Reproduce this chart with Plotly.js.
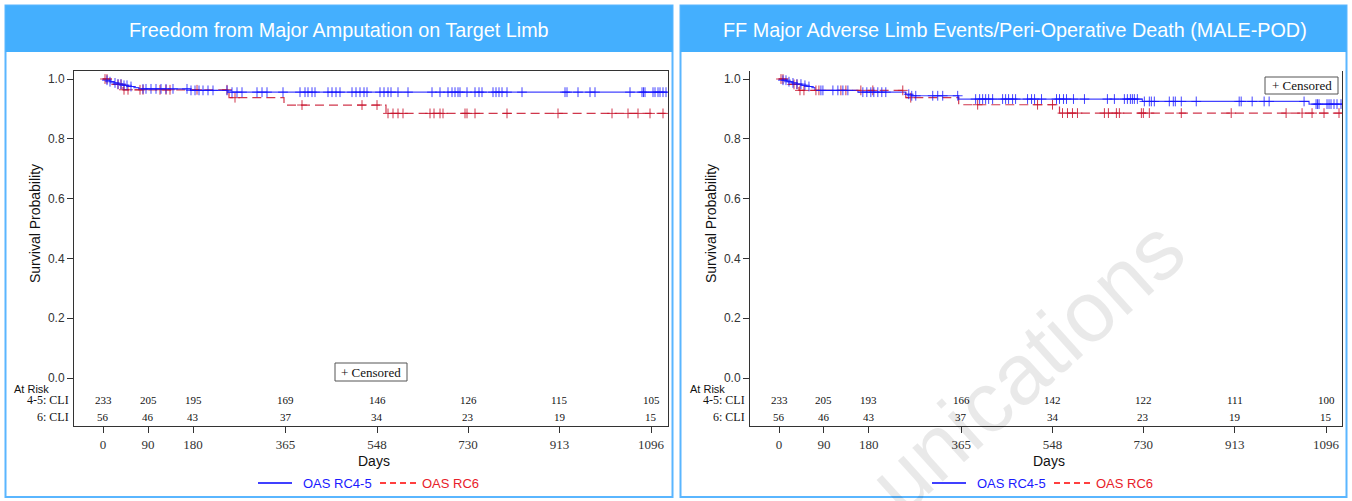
<!DOCTYPE html>
<html>
<head>
<meta charset="utf-8">
<script src="https://cdn.plot.ly/plotly-3.0.1.min.js"></script>
<style>html,body{margin:0;padding:0;background:#fff;}#chart{width:1352px;height:501px;}</style>
</head>
<body>
<div id="chart"></div>
<script>
// ---------- DATA ----------
const panelTitles = ["Freedom from Major Amputation on Target Limb",
                     "FF Major Adverse Limb Events/Peri-Operative Death (MALE-POD)"];
const seriesNames = ["OAS RC4-5", "OAS RC6"];
const dayTicks = [0, 90, 180, 365, 548, 730, 913, 1096];
const survTicks = [0, 0.2, 0.4, 0.6, 0.8, 1.0];
const survTickLabels = ["0.0", "0.2", "0.4", "0.6", "0.8", "1.0"];
const riskRowLabels = ["4-5: CLI", "6: CLI"];

// Panel 1: Freedom from Major Amputation
const p1_rc45_time = [0, 6, 14, 22, 30, 40, 50, 62, 72, 175, 250, 1128];
const p1_rc45_surv = [1.0, 0.996, 0.991, 0.987, 0.983, 0.979, 0.975, 0.971, 0.967, 0.962, 0.956, 0.956];
const p1_rc6_time = [0, 18, 40, 252, 362, 566, 1128];
const p1_rc6_surv = [1.0, 0.982, 0.964, 0.9375, 0.913, 0.885, 0.885];
const p1_rc45_cens = [8, 14, 24, 30, 36, 42, 48, 56, 80, 86, 96, 106, 116, 126, 140, 168, 176, 184, 192, 200, 210, 220,
  248, 258, 268, 278, 308, 318, 328, 360, 394, 404, 410, 418, 424, 450, 458, 466, 474,
  498, 506, 514, 522, 528, 554, 562, 570, 576, 590, 610, 658, 674, 690, 698, 704, 710, 714,
  728, 744, 752, 758, 780, 786, 792, 798, 808, 838, 924, 928, 950, 974, 984, 1054,
  1078, 1081, 1084, 1100, 1104, 1110, 1114, 1120, 1126];
const p1_rc6_cens = [4, 8, 30, 36, 42, 50, 74, 80, 114, 126, 134, 188, 248, 264, 398, 518, 548,
  570, 580, 590, 600, 654, 662, 674, 680, 724, 728, 744, 808, 910, 1018, 1050, 1070, 1094, 1120];
const p1_risk_rc45 = [233, 205, 195, 169, 146, 126, 115, 105];
const p1_risk_rc6 = [56, 46, 43, 37, 34, 23, 19, 15];

// Panel 2: MALE-POD
const p2_rc45_time = [0, 8, 16, 26, 36, 46, 56, 66, 72, 158, 254, 266, 360, 728, 1062, 1128];
const p2_rc45_surv = [1.0, 0.996, 0.991, 0.987, 0.983, 0.979, 0.975, 0.971, 0.962, 0.956, 0.949, 0.944, 0.933, 0.925, 0.916, 0.916];
const p2_rc6_time = [0, 18, 40, 254, 360, 562, 1128];
const p2_rc6_surv = [1.0, 0.982, 0.962, 0.9375, 0.914, 0.886, 0.886];
const p2_rc45_cens = [8, 14, 20, 28, 36, 44, 52, 60, 84, 88, 108, 118, 128, 138, 168, 176, 184, 190, 198, 206, 214,
  260, 266, 274, 308, 318, 328, 358, 394, 402, 408, 414, 420, 428, 448, 454, 460, 468, 474,
  498, 506, 512, 526, 556, 562, 570, 576, 590, 612, 658, 672, 692, 698, 704, 708, 712, 718,
  732, 742, 746, 752, 782, 790, 794, 806, 836, 922, 926, 948, 972, 982, 1052, 1076, 1079, 1082,
  1098, 1102, 1106, 1112, 1118, 1126];
const p2_rc6_cens = [4, 8, 30, 36, 42, 50, 74, 80, 124, 134, 164, 188, 248, 264, 398, 518, 548,
  568, 578, 588, 598, 652, 660, 676, 682, 726, 730, 742, 806, 906, 1016, 1048, 1068, 1092, 1122];
const p2_risk_rc45 = [233, 205, 193, 166, 142, 122, 111, 100];
const p2_risk_rc6 = [56, 46, 43, 37, 34, 23, 19, 15];

// ---------- STYLE / LAYOUT ----------
const W = 1352, H = 501;
const px = x => x / W;
const py = y => 1 - y / H;
const BLUE = 'rgba(20,20,255,0.8)';
const RED = 'rgba(200,20,45,0.85)';
const SANS = 'Liberation Sans, Arial, sans-serif';
const SERIF = 'Liberation Serif, Times New Roman, serif';

function stepAt(times, surv, t) {
  let v = surv[0];
  for (let i = 0; i < times.length; i++) { if (times[i] <= t) v = surv[i]; }
  return v;
}

function curve(times, surv, color, dash, xa, ya) {
  return {x: times, y: surv, type: 'scatter', mode: 'lines', line: {shape: 'hv', color: color, width: 1.2, dash: dash},
          xaxis: xa, yaxis: ya, showlegend: false, hoverinfo: 'skip'};
}
function cens(days, times, surv, color, xa, ya) {
  return {x: days, y: days.map(d => stepAt(times, surv, d)), type: 'scatter', mode: 'markers',
          marker: {symbol: 'cross-thin', size: 7, line: {color: color, width: 1}, color: color},
          xaxis: xa, yaxis: ya, showlegend: false, hoverinfo: 'skip'};
}

const data = [
  curve(p1_rc6_time, p1_rc6_surv, RED, '9px,5px', 'x', 'y'),
  curve(p1_rc45_time, p1_rc45_surv, BLUE, 'solid', 'x', 'y'),
  cens(p1_rc6_cens, p1_rc6_time, p1_rc6_surv, RED, 'x', 'y'),
  cens(p1_rc45_cens, p1_rc45_time, p1_rc45_surv, BLUE, 'x', 'y'),
  curve(p2_rc6_time, p2_rc6_surv, RED, '9px,5px', 'x2', 'y2'),
  curve(p2_rc45_time, p2_rc45_surv, BLUE, 'solid', 'x2', 'y2'),
  cens(p2_rc6_cens, p2_rc6_time, p2_rc6_surv, RED, 'x2', 'y2'),
  cens(p2_rc45_cens, p2_rc45_time, p2_rc45_surv, BLUE, 'x2', 'y2')
];

const yDomain = [py(426), py(71)];
const yRange = [-0.1605, 1.0268];
function xAxis(dom, rng, mirror, anchor) {
  return {domain: dom, range: rng, anchor: anchor, tickmode: 'array', tickvals: dayTicks, ticktext: dayTicks.map(String),
    ticks: 'outside', ticklen: 6, tickcolor: '#333', showline: true, linecolor: '#333', linewidth: 1, mirror: mirror,
    showgrid: false, zeroline: false, tickfont: {family: SERIF, size: 13, color: '#333'}, fixedrange: true};
}
function yAxis(dom, anchor) {
  return {domain: dom, range: yRange, anchor: anchor, tickmode: 'array', tickvals: survTicks, ticktext: survTickLabels,
    ticks: 'outside', ticklen: 6, tickcolor: '#333', showline: true, linecolor: '#333', linewidth: 1, mirror: true,
    showgrid: false, zeroline: false, tickfont: {family: SANS, size: 12, color: '#333'}, fixedrange: true};
}

const panels = [
  {x0: 5.5, x1: 672.5, title: panelTitles[0], tcx: 339, axL: 74, xa: 'x', riskA: p1_risk_rc45, riskB: p1_risk_rc6,
   daysX: 374, legX: 258, box: [335, 363, 407, 381]},
  {x0: 680.5, x1: 1346.5, title: panelTitles[1], tcx: 1015, axL: 750, xa: 'x2', riskA: p2_risk_rc45, riskB: p2_risk_rc6,
   daysX: 1049, legX: 932, box: [1265, 77, 1338, 94]}
];

const shapes = [];
const annotations = [];
panels.forEach(p => {
  shapes.push({type: 'rect', xref: 'paper', yref: 'paper', x0: px(p.x0), x1: px(p.x1), y0: py(497), y1: py(5.5),
    line: {color: '#5ab6ff', width: 2}, fillcolor: 'rgba(0,0,0,0)', layer: 'below'});
  shapes.push({type: 'rect', xref: 'paper', yref: 'paper', x0: px(p.x0), x1: px(p.x1), y0: py(52), y1: py(5.5),
    line: {width: 0}, fillcolor: '#44affe', layer: 'below'});
  annotations.push({xref: 'paper', yref: 'paper', x: px(p.tcx), y: py(30), text: p.title, showarrow: false,
    font: {family: SANS, size: 19.8, color: '#ffffff'}, xanchor: 'center', yanchor: 'middle'});
  // y title
  annotations.push({xref: 'paper', yref: 'paper', x: px(p.axL - 39), y: py(224), text: 'Survival Probability', textangle: -90,
    showarrow: false, font: {family: SANS, size: 14, color: '#111'}, xanchor: 'center', yanchor: 'middle'});
  // At risk labels
  annotations.push({xref: 'paper', yref: 'paper', x: px(p.axL - 62), y: py(389), text: 'At Risk', showarrow: false,
    font: {family: SANS, size: 11, color: '#111'}, xanchor: 'left', yanchor: 'middle'});
  annotations.push({xref: 'paper', yref: 'paper', x: px(p.axL - 3), y: py(400), text: riskRowLabels[0], showarrow: false,
    font: {family: SERIF, size: 12, color: '#111'}, xanchor: 'right', yanchor: 'middle'});
  annotations.push({xref: 'paper', yref: 'paper', x: px(p.axL - 3), y: py(417), text: riskRowLabels[1], showarrow: false,
    font: {family: SERIF, size: 12, color: '#111'}, xanchor: 'right', yanchor: 'middle'});
  dayTicks.forEach((d, i) => {
    annotations.push({xref: p.xa, yref: 'paper', x: d, y: py(400), text: String(p.riskA[i]), showarrow: false,
      font: {family: SERIF, size: 11, color: '#111'}, xanchor: 'center', yanchor: 'middle'});
    annotations.push({xref: p.xa, yref: 'paper', x: d, y: py(417), text: String(p.riskB[i]), showarrow: false,
      font: {family: SERIF, size: 11, color: '#111'}, xanchor: 'center', yanchor: 'middle'});
  });
  // Days
  annotations.push({xref: 'paper', yref: 'paper', x: px(p.daysX), y: py(461), text: 'Days', showarrow: false,
    font: {family: SANS, size: 14, color: '#111'}, xanchor: 'center', yanchor: 'middle'});
  // Legend
  const L = p.legX;
  shapes.push({type: 'line', xref: 'paper', yref: 'paper', x0: px(L), x1: px(L + 34), y0: py(483), y1: py(483),
    line: {color: '#0000ff', width: 1.5}});
  annotations.push({xref: 'paper', yref: 'paper', x: px(L + 43), y: py(483), text: seriesNames[0], showarrow: false,
    font: {family: SANS, size: 13, color: '#1a1aff'}, xanchor: 'left', yanchor: 'middle'});
  shapes.push({type: 'line', xref: 'paper', yref: 'paper', x0: px(L + 122), x1: px(L + 158), y0: py(483), y1: py(483),
    line: {color: '#ff0000', width: 1.5, dash: '6px,4px'}});
  annotations.push({xref: 'paper', yref: 'paper', x: px(L + 162), y: py(483), text: seriesNames[1], showarrow: false,
    font: {family: SANS, size: 13, color: '#e8202a'}, xanchor: 'left', yanchor: 'middle'});
  // Censored box
  const b = p.box;
  shapes.push({type: 'rect', xref: 'paper', yref: 'paper', x0: px(b[0]), x1: px(b[2]), y0: py(b[3]), y1: py(b[1]),
    line: {color: '#555', width: 1}, fillcolor: '#ffffff'});
  annotations.push({xref: 'paper', yref: 'paper', x: px((b[0] + b[2]) / 2), y: py((b[1] + b[3]) / 2), text: '+ Censored',
    showarrow: false, font: {family: SERIF, size: 13, color: '#111'}, xanchor: 'center', yanchor: 'middle'});
});

// watermark
annotations.push({xref: 'paper', yref: 'paper', x: px(1026), y: py(366), text: 'unications', textangle: -42,
  showarrow: false, font: {family: SANS, size: 86, color: 'rgba(0,0,0,0.085)'}, xanchor: 'center', yanchor: 'middle'});

const layout = {
  width: W, height: H, margin: {l: 0, r: 0, t: 0, b: 0},
  paper_bgcolor: '#ffffff', plot_bgcolor: 'rgba(0,0,0,0)', showlegend: false,
  xaxis: xAxis([px(74), px(668)], [-58, 1130], true, 'y'),
  yaxis: yAxis(yDomain, 'x'),
  xaxis2: xAxis([px(750), px(1342)], [-58.1, 1128], false, 'y2'),
  yaxis2: yAxis(yDomain, 'x2'),
  shapes: shapes, annotations: annotations
};

Plotly.newPlot('chart', data, layout, {displayModeBar: false, staticPlot: true});
</script>
</body>
</html>
